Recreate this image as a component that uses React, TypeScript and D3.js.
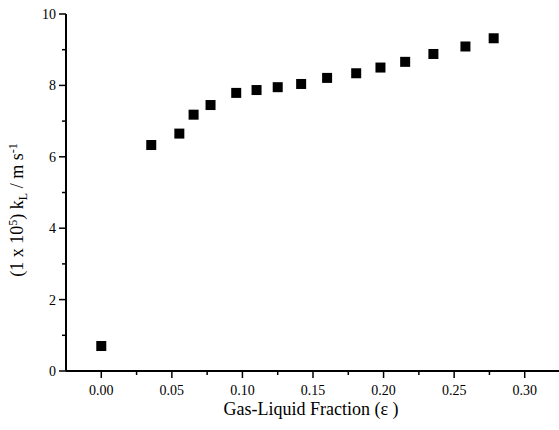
import React, { useEffect, useRef } from 'react';
import * as d3 from 'd3';

const fraction = [0.0, 0.0354, 0.0553, 0.0654, 0.0774, 0.0956, 0.110, 0.125, 0.1416, 0.160, 0.1806, 0.1978, 0.2153, 0.2353, 0.258, 0.278];
const kL = [0.70, 6.33, 6.65, 7.18, 7.45, 7.79, 7.87, 7.95, 8.04, 8.21, 8.34, 8.50, 8.66, 8.88, 9.09, 9.32];
const xTicks = [0, 0.05, 0.1, 0.15, 0.2, 0.25, 0.3];
const yTicks = [0, 2, 4, 6, 8, 10];

const App = () => {
  const ref = useRef<SVGSVGElement>(null);

  useEffect(() => {
    const svg = d3.select(ref.current);
    svg.selectAll('*').remove();
    const font = '"Liberation Serif", "Times New Roman", serif';

    const x = d3.scaleLinear().domain([-0.025, 0.325]).range([66, 560]);
    const y = d3.scaleLinear().domain([0, 10]).range([371, 14]);

    const g = svg.append('g');

    // axis lines
    g.append('line').attr('x1', 66).attr('x2', 66).attr('y1', y(10)).attr('y2', y(0))
      .attr('stroke', '#000').attr('stroke-width', 2);
    g.append('line').attr('x1', 66).attr('x2', 560).attr('y1', y(0)).attr('y2', y(0))
      .attr('stroke', '#000').attr('stroke-width', 2);

    // y ticks
    const yMinor = d3.range(1, 10, 2);
    g.selectAll('.ymin').data(yMinor).enter().append('line')
      .attr('x1', 62).attr('x2', 66).attr('y1', d => y(d)).attr('y2', d => y(d))
      .attr('stroke', '#000').attr('stroke-width', 1.5);
    g.selectAll('.ymaj').data(yTicks).enter().append('line')
      .attr('x1', 59).attr('x2', 66).attr('y1', d => y(d)).attr('y2', d => y(d))
      .attr('stroke', '#000').attr('stroke-width', 1.5);
    g.selectAll('.ylab').data(yTicks).enter().append('text')
      .attr('x', 56).attr('y', d => y(d)).attr('dy', '0.35em')
      .attr('text-anchor', 'end').attr('font-family', font).attr('font-size', 14)
      .text(d => String(d));

    // x ticks
    const xMinor = [0.025, 0.075, 0.125, 0.175, 0.225, 0.275];
    g.selectAll('.xmin').data(xMinor).enter().append('line')
      .attr('x1', d => x(d)).attr('x2', d => x(d)).attr('y1', y(0)).attr('y2', y(0) + 4)
      .attr('stroke', '#000').attr('stroke-width', 1.5);
    g.selectAll('.xmaj').data(xTicks).enter().append('line')
      .attr('x1', d => x(d)).attr('x2', d => x(d)).attr('y1', y(0)).attr('y2', y(0) + 7)
      .attr('stroke', '#000').attr('stroke-width', 1.5);
    g.selectAll('.xlab').data(xTicks).enter().append('text')
      .attr('x', d => x(d)).attr('y', y(0) + 24)
      .attr('text-anchor', 'middle').attr('font-family', font).attr('font-size', 14)
      .text(d => d3.format('.2f')(d));

    // axis titles
    g.append('text').attr('x', 311).attr('y', 415).attr('text-anchor', 'middle')
      .attr('font-family', font).attr('font-size', 18)
      .text('Gas-Liquid Fraction (ε )');

    const yt = g.append('text').attr('transform', 'translate(23,210) rotate(-90)')
      .attr('text-anchor', 'middle').attr('font-family', font).attr('font-size', 18);
    yt.append('tspan').text('(1 x 10');
    yt.append('tspan').attr('dy', -6).attr('font-size', 12).text('5');
    yt.append('tspan').attr('dy', 6).text(') k');
    yt.append('tspan').attr('dy', 4).attr('font-size', 12).text('L');
    yt.append('tspan').attr('dy', -4).text(' / m s');
    yt.append('tspan').attr('dy', -6).attr('font-size', 12).text('-1');

    // points
    const s = 10;
    g.selectAll('.pt').data(fraction).enter().append('rect')
      .attr('x', d => x(d) - s / 2).attr('y', (d, i) => y(kL[i]) - s / 2)
      .attr('width', s).attr('height', s).attr('fill', '#000');
  }, []);

  return (
    <svg ref={ref} width={559} height={430} style={{ position: 'absolute', left: 0, top: 0, background: '#fff' }} />
  );
};

export default App;
